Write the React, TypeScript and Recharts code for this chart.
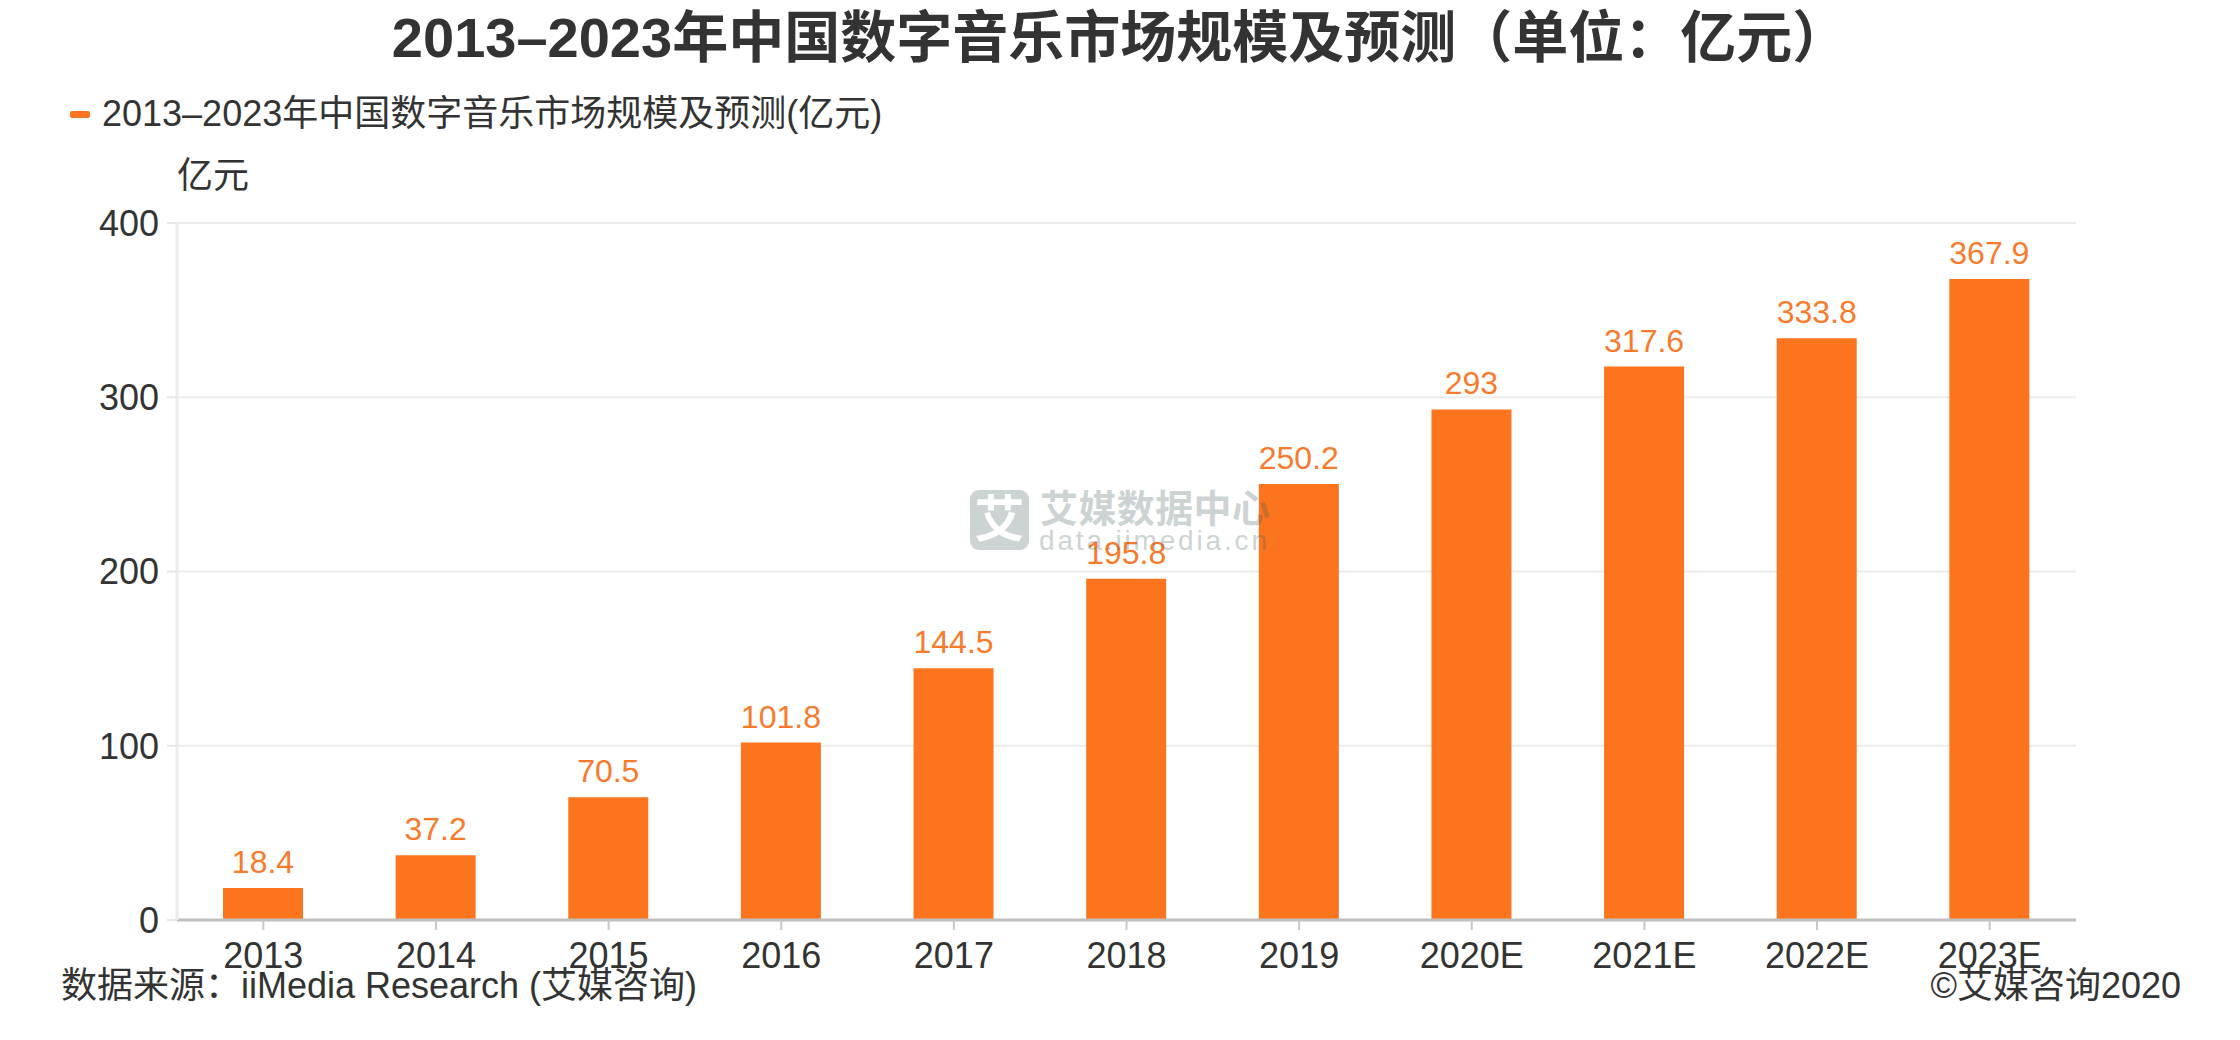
import { BarChart, Bar, XAxis, YAxis, CartesianGrid, LabelList } from "recharts";

const YEARS = ["2013", "2014", "2015", "2016", "2017", "2018", "2019", "2020E", "2021E", "2022E", "2023E"];
const MARKET_SIZE = [18.4, 37.2, 70.5, 101.8, 144.5, 195.8, 250.2, 293, 317.6, 333.8, 367.9];
const Y_TICKS = [0, 100, 200, 300, 400];

const TITLE = "2013–2023年中国数字音乐市场规模及预测（单位：亿元）";
const SERIES_NAME = "2013–2023年中国数字音乐市场规模及预测(亿元)";
const UNIT = "亿元";
const SOURCE = "数据来源：iiMedia Research (艾媒咨询)";
const COPYRIGHT = "©艾媒咨询2020";

const BAR_COLOR = "#fc741e";
const LABEL_COLOR = "#f97a2a";
const TEXT = "#333333";
const FONT = "'Liberation Sans', 'Noto Sans CJK SC', sans-serif";

const data = YEARS.map((year, i) => ({ year, value: MARKET_SIZE[i] }));

// grey iiMedia watermark, drawn over the bars like in the original
const Watermark = () => (
  <svg width={2240} height={1040} style={{ position: "absolute", left: 0, top: 0, pointerEvents: "none" }}>
    <g opacity={0.26} fill="#3f5a58" fontFamily={FONT}>
      <rect x={970} y={490} width={59} height={60} rx={9} />
      <text x={999.5} y={537} textAnchor="middle" fontSize={50} fontWeight={700} fill="#fff" opacity={1}>艾</text>
      <text x={1040} y={522} fontSize={38} fontWeight={700} textLength={230} lengthAdjust="spacing">艾媒数据中心</text>
      <text x={1039} y={550} fontSize={28} textLength={228} lengthAdjust="spacing">data.iimedia.cn</text>
    </g>
  </svg>
);

export default function App() {
  return (
    <div style={{ position: "absolute", left: 0, top: 0, width: 2240, height: 1040, background: "#fff", fontFamily: FONT, color: TEXT }}>
      <div style={{ position: "absolute", left: 0, top: 10, width: 2240, textAlign: "center", fontSize: 56, lineHeight: "56px", fontWeight: 700 }}>
        {TITLE}
      </div>

      <div style={{ position: "absolute", left: 70, top: 96, display: "flex", alignItems: "center", height: 36 }}>
        <div style={{ width: 20, height: 7, borderRadius: 2, background: BAR_COLOR, marginRight: 12 }} />
        <span style={{ fontSize: 36, lineHeight: "36px" }}>{SERIES_NAME}</span>
      </div>

      <div style={{ position: "absolute", left: 177, top: 158, fontSize: 36, lineHeight: "36px" }}>{UNIT}</div>

      <BarChart width={2240} height={1040} data={data} margin={{ top: 223, right: 164, bottom: 60, left: 77 }}>
        <CartesianGrid vertical={false} stroke="#ececec" strokeWidth={2} />
        <XAxis
          dataKey="year"
          height={60}
          axisLine={{ stroke: "#bfbfbf", strokeWidth: 3 }}
          tickLine={{ stroke: "#c8c8c8", strokeWidth: 2 }}
          tickSize={10}
          tickMargin={12}
          tick={{ fill: TEXT, fontSize: 36, fontFamily: FONT }}
          interval={0}
        />
        <YAxis
          width={100}
          domain={[0, 400]}
          ticks={Y_TICKS}
          axisLine={{ stroke: "#ebebeb", strokeWidth: 3 }}
          tickLine={{ stroke: "#e6e6e6", strokeWidth: 2 }}
          tickSize={10}
          tickMargin={8}
          tick={{ fill: TEXT, fontSize: 36, fontFamily: FONT }}
        />
        <Bar dataKey="value" fill={BAR_COLOR} barSize={80} isAnimationActive={false}>
          <LabelList dataKey="value" position="top" offset={15} fill={LABEL_COLOR} fontSize={32} fontFamily={FONT} />
        </Bar>
      </BarChart>

      <Watermark />

      <div style={{ position: "absolute", left: 61, top: 968, fontSize: 36, lineHeight: "36px" }}>{SOURCE}</div>
      <div style={{ position: "absolute", right: 59, top: 968, fontSize: 36, lineHeight: "36px" }}>{COPYRIGHT}</div>
    </div>
  );
}
